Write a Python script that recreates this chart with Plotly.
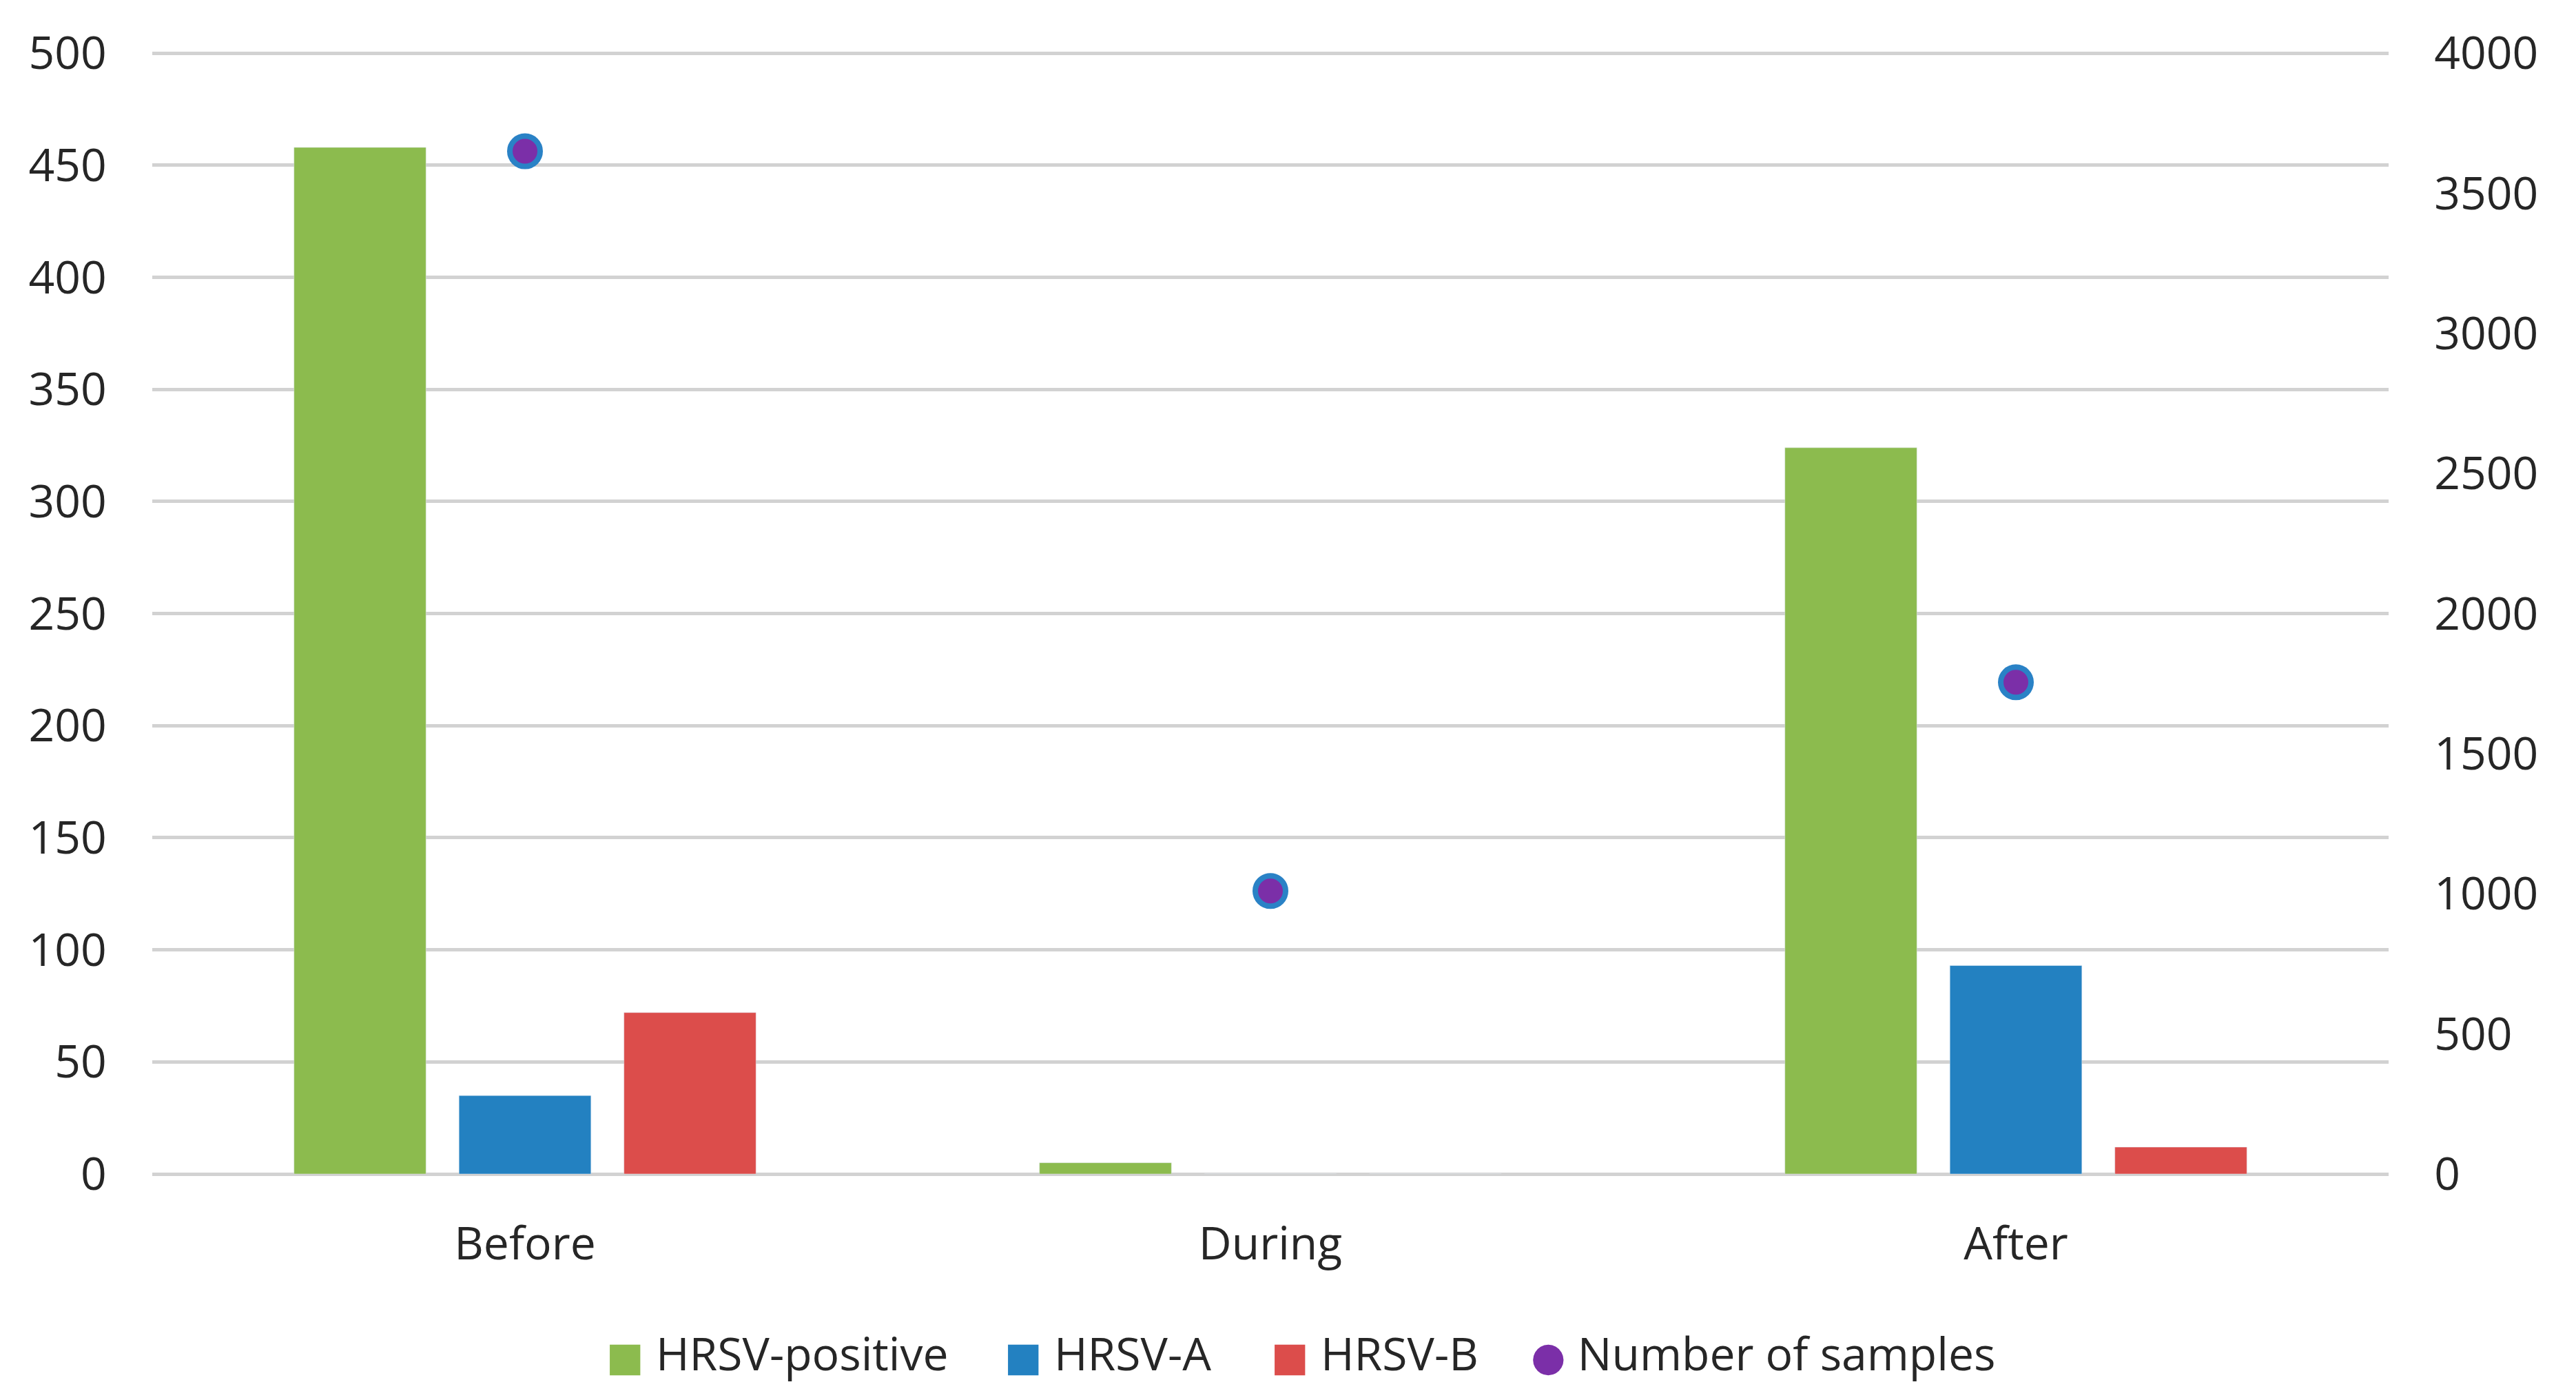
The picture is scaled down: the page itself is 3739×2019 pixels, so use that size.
import plotly.graph_objects as go

# periodos
periodos = ["Before", "During", "After"]

# casos (eje izquierdo)
hrsv_positive = [458, 5, 324]
hrsv_a = [35, 0, 93]
hrsv_b = [72, 0, 12]

# numero de muestras (eje derecho)
n_samples = [3650, 1010, 1755]

left_ticks = list(range(0, 501, 50))
right_ticks = list(range(0, 4001, 500))

# colores
verde = "#8cbb4e"
azul = "#2381c1"
rojo = "#dc4d4b"
morado = "#7b2fa8"

fuente = dict(family="Open Sans", size=66, color="#262626")

fig = go.Figure()
fig.add_trace(go.Bar(x=periodos, y=hrsv_positive, name="HRSV-positive",
                     marker_color=verde, showlegend=False))
fig.add_trace(go.Bar(x=periodos, y=hrsv_a, name="HRSV-A",
                     marker_color=azul, showlegend=False))
fig.add_trace(go.Bar(x=periodos, y=hrsv_b, name="HRSV-B",
                     marker_color=rojo, showlegend=False))
fig.add_trace(go.Scatter(x=periodos, y=n_samples, name="Number of samples",
                         mode="markers", yaxis="y2", showlegend=False,
                         marker=dict(size=44, color=morado,
                                     line=dict(color="#2a82c6", width=8))))

# leyenda como texto
leyenda = [
    (0.2023, "■", verde, "HRSV-positive"),
    (0.3806, "■", azul, "HRSV-A"),
    (0.4996, "■", rojo, "HRSV-B"),
    (0.6157, "●", morado, "Number of samples"),
]
for xp, sim, col, txt in leyenda:
    fig.add_annotation(
        x=xp, y=-0.159, xref="paper", yref="paper",
        xanchor="left", yanchor="middle", showarrow=False,
        text="<span style='color:%s;font-family:DejaVu Sans;font-size:58px'>%s</span> %s"
             % (col, sim, txt),
        font=fuente,
    )

fig.update_layout(
    width=3739, height=2019,
    paper_bgcolor="white", plot_bgcolor="white",
    font=fuente,
    margin=dict(l=213, r=280, t=66, b=323),
    barmode="group", bargap=0.336, bargroupgap=0.2,
    xaxis=dict(showline=False, showgrid=False, ticks="outside", ticklen=44,
               tickcolor="rgba(0,0,0,0)", tickfont=fuente),
    yaxis=dict(range=[0, 501], tickvals=left_ticks, showgrid=True,
               gridcolor="#d2d2d2", gridwidth=5, zeroline=True,
               zerolinecolor="#d2d2d2", zerolinewidth=5,
               ticks="outside", ticklen=52, tickcolor="rgba(0,0,0,0)",
               tickfont=fuente),
    yaxis2=dict(range=[0, 4008], tickvals=right_ticks, overlaying="y",
                side="right", showgrid=False, zeroline=False,
                ticks="outside", ticklen=52, tickcolor="rgba(0,0,0,0)",
                tickfont=fuente),
    showlegend=False,
)

fig.write_html("out.html")
